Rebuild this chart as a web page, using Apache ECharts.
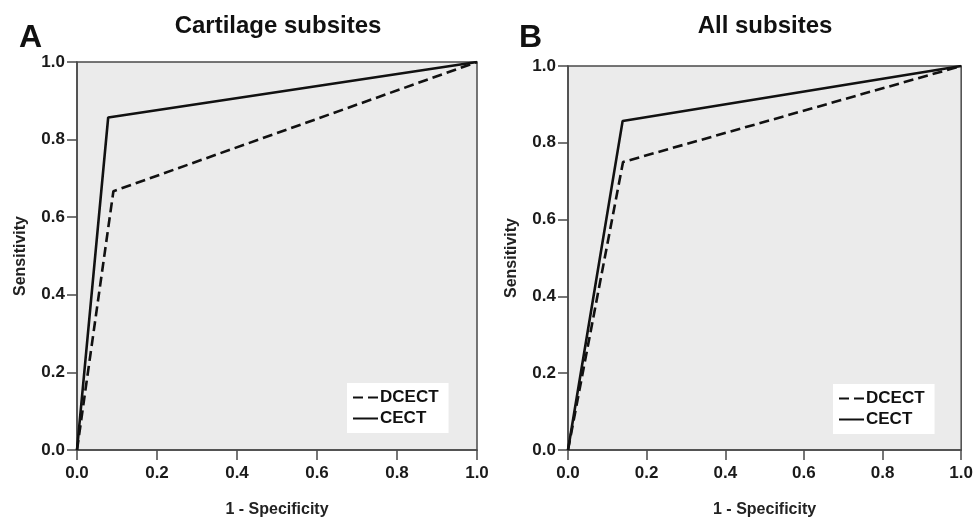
<!DOCTYPE html>
<html>
<head>
<meta charset="utf-8">
<script src="https://cdn.jsdelivr.net/npm/echarts@6/dist/echarts.min.js"></script>
<style>
html,body{margin:0;padding:0;background:#fff;}
#c{width:976px;height:523px;}
</style>
</head>
<body>
<div id="c"></div>
<script>
// Panel A: Cartilage subsites  [1 - Specificity, Sensitivity]
const cartDCECT = [[0, 0], [0.091, 0.667], [1, 1]];
const cartCECT  = [[0, 0], [0.078, 0.857], [1, 1]];
// Panel B: All subsites
const allDCECT  = [[0, 0], [0.140, 0.750], [1, 1]];
const allCECT   = [[0, 0], [0.139, 0.857], [1, 1]];

const panelTitles = ['Cartilage subsites', 'All subsites'];
const panelLetters = ['A', 'B'];
const seriesNames = ['DCECT', 'CECT'];
const xTitle = '1 - Specificity';
const yTitle = 'Sensitivity';

const FONT = '"Liberation Sans", Arial, sans-serif';
const axisCol = '#4a4a4a';

function xAxisCfg(i) {
  return {
    gridIndex: i, type: 'value', min: 0, max: 1, interval: 0.2,
    name: xTitle, nameLocation: 'middle', nameGap: 52,
    nameTextStyle: {fontFamily: FONT, fontWeight: 'bold', fontSize: 16, color: '#222'},
    axisLine: {show: true, onZero: false, lineStyle: {color: axisCol, width: 1.5}},
    axisTick: {show: true, inside: false, length: 10, lineStyle: {color: axisCol, width: 1.5}},
    axisLabel: {fontFamily: FONT, fontWeight: 'bold', fontSize: 17, color: '#1a1a1a', margin: 15,
      formatter: v => v.toFixed(1)},
    splitLine: {show: false}
  };
}
function yAxisCfg(i) {
  return {
    gridIndex: i, type: 'value', min: 0, max: 1, interval: 0.2,
    name: yTitle, nameLocation: 'middle', nameGap: 48,
    nameTextStyle: {fontFamily: FONT, fontWeight: 'bold', fontSize: 16, color: '#222'},
    axisLine: {show: true, onZero: false, lineStyle: {color: axisCol, width: 1.5}},
    axisTick: {show: true, inside: false, length: 10, lineStyle: {color: axisCol, width: 1.5}},
    axisLabel: {fontFamily: FONT, fontWeight: 'bold', fontSize: 17, color: '#1a1a1a', margin: 12,
      formatter: v => v.toFixed(1)},
    splitLine: {show: false}
  };
}
function lineSeries(name, data, gi, dashed) {
  return {
    name: name, type: 'line', xAxisIndex: gi, yAxisIndex: gi, data: data,
    symbol: 'none', animation: false,
    lineStyle: {color: '#111', width: 2.6, type: dashed ? [10, 5] : 'solid'},
    itemStyle: {color: '#111'}
  };
}
function legendCfg(left, top) {
  return {
    orient: 'vertical', left: left, top: top, data: seriesNames,
    backgroundColor: '#fff', padding: [6, 10, 6, 5], itemGap: 4,
    itemWidth: 25, itemHeight: 14,
    itemStyle: {color: 'rgba(0,0,0,0)', borderWidth: 0, opacity: 0},
    textStyle: {fontFamily: FONT, fontWeight: 'bold', fontSize: 17, color: '#111', padding: [0, 0, 0, -3]}
  };
}

const chart = echarts.init(document.getElementById('c'), null, {renderer: 'canvas'});
chart.setOption({
  backgroundColor: '#fff',
  animation: false,
  title: [
    {text: panelLetters[0], left: 14, top: 17, textStyle: {fontFamily: FONT, fontWeight: 'bold', fontSize: 32, color: '#111'}},
    {text: panelTitles[0], left: 273, top: 9, textAlign: 'center', textStyle: {fontFamily: FONT, fontWeight: 'bold', fontSize: 24, color: '#111'}},
    {text: panelLetters[1], left: 514, top: 17, textStyle: {fontFamily: FONT, fontWeight: 'bold', fontSize: 32, color: '#111'}},
    {text: panelTitles[1], left: 760, top: 9, textAlign: 'center', textStyle: {fontFamily: FONT, fontWeight: 'bold', fontSize: 24, color: '#111'}}
  ],
  grid: [
    {left: 77, top: 62, width: 400, height: 399, show: true, backgroundColor: '#ebebeb', borderColor: axisCol, borderWidth: 1.5},
    {left: 568, top: 66, width: 397, height: 395, show: true, backgroundColor: '#ebebeb', borderColor: axisCol, borderWidth: 1.5}
  ],
  xAxis: [xAxisCfg(0), xAxisCfg(1)],
  yAxis: [yAxisCfg(0), yAxisCfg(1)],
  legend: [legendCfg(347, 383), legendCfg(833, 384)],
  series: [
    lineSeries(seriesNames[0], cartDCECT, 0, true),
    lineSeries(seriesNames[1], cartCECT, 0, false),
    lineSeries(seriesNames[0], allDCECT, 1, true),
    lineSeries(seriesNames[1], allCECT, 1, false)
  ]
});
</script>
</body>
</html>
